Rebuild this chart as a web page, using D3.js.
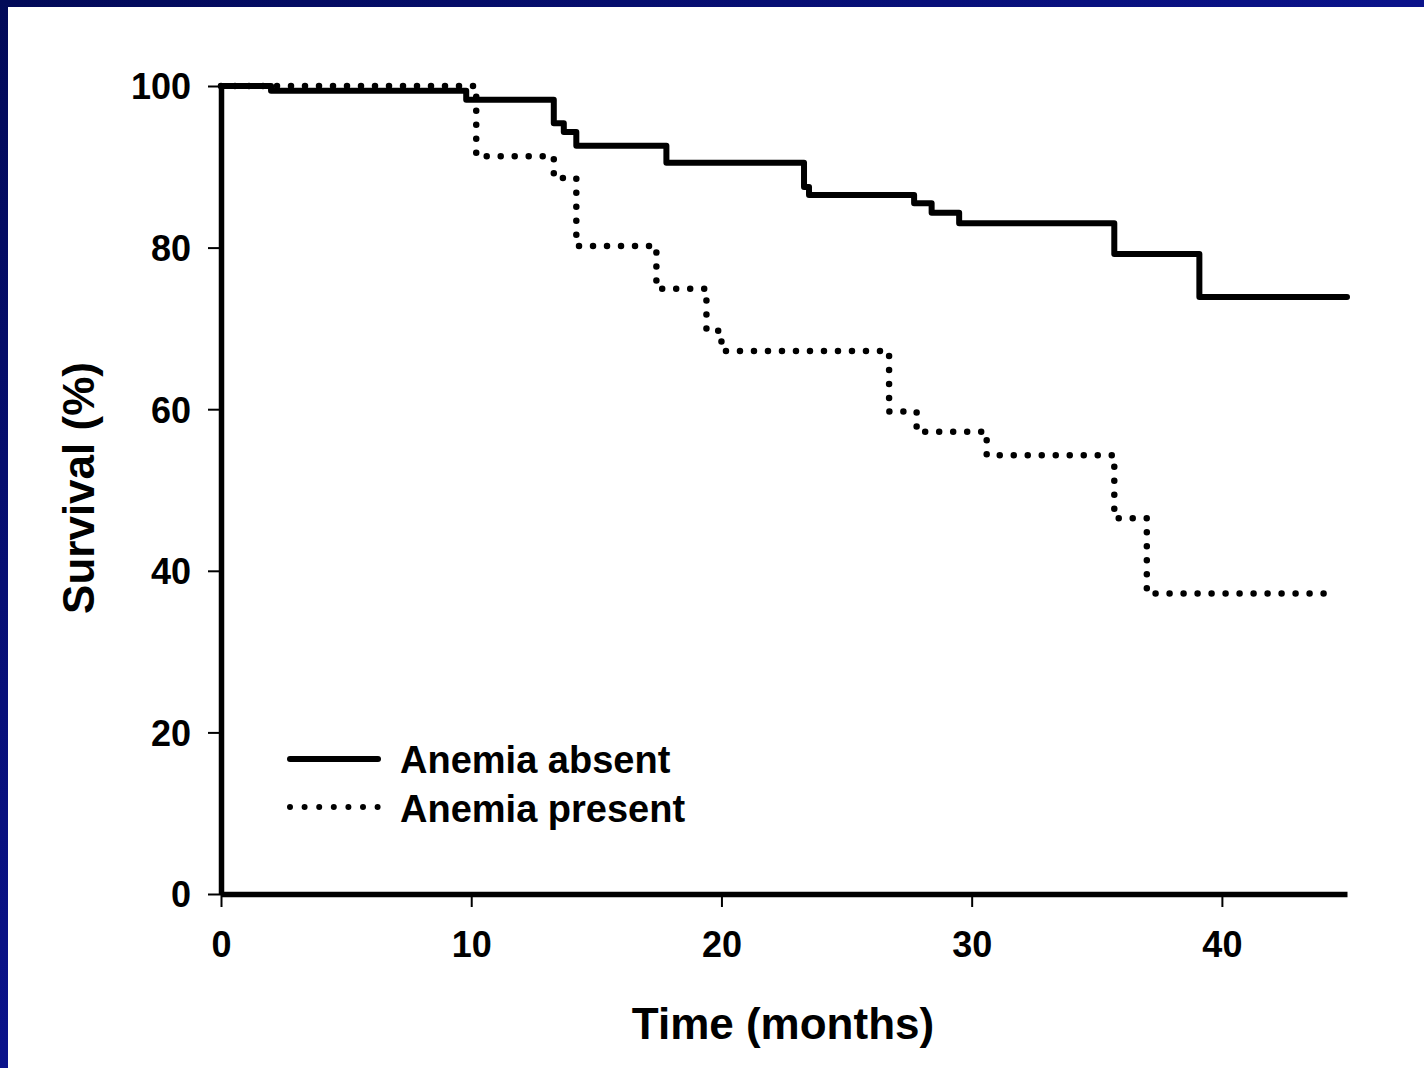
<!DOCTYPE html>
<html>
<head>
<meta charset="utf-8">
<script src="https://cdn.jsdelivr.net/npm/d3@7"></script>
<style>
  body { margin: 0; }
  svg { display: block; font-family: "Liberation Sans", Arial, Helvetica, sans-serif; }
  .axis text { font-size: 36px; font-weight: bold; fill: #000; }
</style>
</head>
<body>
<svg id="chart" width="1424" height="1068"></svg>
<script>
// Kaplan-Meier steps (time in months, survival in %)
var absentTimes = [0, 2, 9.8, 13.3, 13.7, 14.2, 17.8, 23.3, 23.5, 27.7, 28.4, 29.5, 35.7, 39.1, 45];
var absentSurv  = [100, 99.4, 98.3, 95.4, 94.3, 92.6, 90.5, 87.5, 86.5, 85.5, 84.3, 83.0, 79.2, 73.9, 73.9];

var presentTimes = [0, 10.2, 13.3, 14.2, 17.4, 19.4, 20.0, 26.7, 27.8, 30.6, 35.7, 37.0, 44.5];
var presentSurv  = [100, 91.3, 88.6, 80.2, 74.9, 69.7, 67.2, 59.7, 57.2, 54.3, 46.5, 37.2, 37.2];

var xTicks = [0, 10, 20, 30, 40];
var yTicks = [0, 20, 40, 60, 80, 100];
var seriesNames = ['Anemia absent', 'Anemia present'];

var svg = d3.select('#chart');

// blue slide background with white panel
var defs = svg.append('defs');
var grad = defs.append('linearGradient')
  .attr('id', 'bg')
  .attr('x1', '0%').attr('y1', '0%')
  .attr('x2', '100%').attr('y2', '100%');
grad.append('stop').attr('offset', '0%').attr('stop-color', '#020a58');
grad.append('stop').attr('offset', '55%').attr('stop-color', '#0c1490');
grad.append('stop').attr('offset', '100%').attr('stop-color', '#1118aa');
svg.append('rect').attr('width', 1424).attr('height', 1068).attr('fill', 'url(#bg)');
svg.append('rect').attr('x', 8).attr('y', 7).attr('width', 1416).attr('height', 1061).attr('fill', '#fff');

var x = d3.scaleLinear().domain([0, 45]).range([221, 1347]);
var y = d3.scaleLinear().domain([0, 100]).range([894, 86]);

// axes
var yAxis = svg.append('g')
  .attr('class', 'axis')
  .attr('transform', 'translate(221,0)')
  .call(d3.axisLeft(y).tickValues(yTicks).tickSize(13).tickSizeOuter(0).tickPadding(17));
var xAxis = svg.append('g')
  .attr('class', 'axis')
  .attr('transform', 'translate(0,894)')
  .call(d3.axisBottom(x).tickValues(xTicks).tickSize(13).tickSizeOuter(0).tickPadding(24));

svg.selectAll('.axis .domain').attr('stroke', '#000').attr('stroke-width', 5.5);
svg.selectAll('.axis .tick line').attr('stroke', '#000').attr('stroke-width', 2);
yAxis.selectAll('.tick text').attr('dy', '0.36em');

// curves
var line = d3.line()
  .x(function (d) { return x(d[0]); })
  .y(function (d) { return y(d[1]); })
  .curve(d3.curveStepAfter);

var absentData = absentTimes.map(function (t, i) { return [t, absentSurv[i]]; });
var presentData = presentTimes.map(function (t, i) { return [t, presentSurv[i]]; });

svg.append('path')
  .datum(presentData)
  .attr('d', line)
  .attr('fill', 'none')
  .attr('stroke', '#000')
  .attr('stroke-width', 6.5)
  .attr('stroke-linecap', 'round')
  .attr('stroke-dasharray', '0 14');

svg.append('path')
  .datum(absentData)
  .attr('d', line)
  .attr('fill', 'none')
  .attr('stroke', '#000')
  .attr('stroke-width', 6)
  .attr('stroke-linejoin', 'round')
  .attr('stroke-linecap', 'round');

// axis titles
svg.append('text')
  .attr('x', 783).attr('y', 1039)
  .attr('text-anchor', 'middle')
  .attr('font-size', 44).attr('font-weight', 'bold')
  .text('Time (months)');
svg.append('text')
  .attr('transform', 'translate(94,488) rotate(-90)')
  .attr('text-anchor', 'middle')
  .attr('font-size', 44).attr('font-weight', 'bold')
  .text('Survival (%)');

// legend
var legend = svg.append('g').attr('transform', 'translate(290,759)');
legend.append('line')
  .attr('x1', 0).attr('x2', 88).attr('y1', 0).attr('y2', 0)
  .attr('stroke', '#000').attr('stroke-width', 6).attr('stroke-linecap', 'round');
legend.append('line')
  .attr('x1', 0).attr('x2', 88).attr('y1', 48).attr('y2', 48)
  .attr('stroke', '#000').attr('stroke-width', 6).attr('stroke-linecap', 'round')
  .attr('stroke-dasharray', '0 14.6');
legend.selectAll('text.lab')
  .data(seriesNames)
  .enter()
  .append('text')
  .attr('class', 'lab')
  .attr('x', 110)
  .attr('y', function (d, i) { return 14 + i * 49; })
  .attr('font-size', 38).attr('font-weight', 'bold')
  .text(function (d) { return d; });
</script>
</body>
</html>
